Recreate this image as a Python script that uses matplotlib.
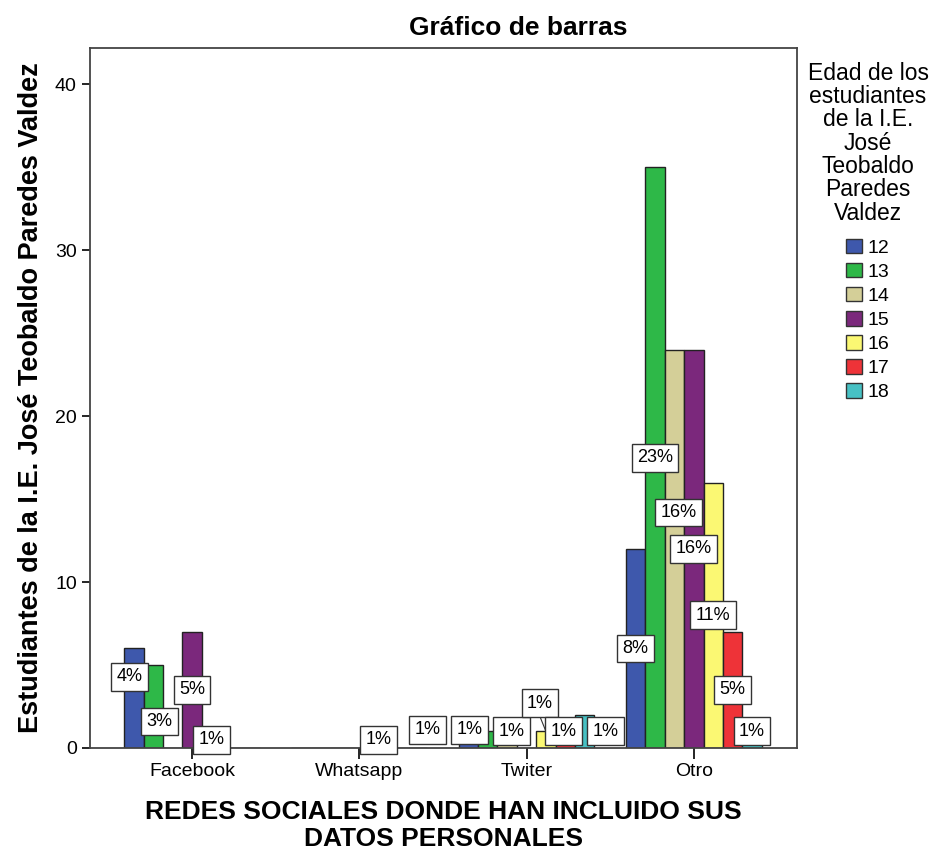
import numpy as np
import matplotlib
matplotlib.use('Agg')
import matplotlib.pyplot as plt
from matplotlib.patches import Patch

plt.rcParams['font.family'] = ['Liberation Sans', 'DejaVu Sans']

# data
redes = ['Facebook', 'Whatsapp', 'Twiter', 'Otro']
edades = ['12', '13', '14', '15', '16', '17', '18']
cuenta_12 = [6, 0, 1, 12]
cuenta_13 = [5, 0, 1, 35]
cuenta_14 = [0, 0, 1, 24]
cuenta_15 = [7, 0, 0, 24]
cuenta_16 = [1, 1, 1, 16]
cuenta_17 = [0, 0, 1, 7]
cuenta_18 = [0, 0, 2, 1]
# percentage labels as printed (None = no label)
pct_12 = ['4%', None, '1%', '8%']
pct_13 = ['3%', None, '1%', '23%']
pct_14 = [None, None, '1%', '16%']
pct_15 = ['5%', None, None, '16%']
pct_16 = ['1%', '1%', '1%', '11%']
pct_17 = [None, None, '1%', '5%']
pct_18 = [None, None, '1%', '1%']

cuentas = [cuenta_12, cuenta_13, cuenta_14, cuenta_15, cuenta_16, cuenta_17, cuenta_18]
pcts = [pct_12, pct_13, pct_14, pct_15, pct_16, pct_17, pct_18]
colores = ['#3e58ac', '#2eb848', '#d4cf98', '#7b287c', '#fbf873', '#ee3338', '#47c1c4']

# label placement tweaks (dx, y) in data units, to mimic SPSS collision handling
ajustes = {
    (0, 0): (-0.024, 4.3), (0, 1): (0.036, 1.6), (0, 4): (0.0, 0.5),
    (1, 4): (0.0, 0.5),
    (2, 0): (-0.245, 1.1), (2, 1): (-0.108, 1.1), (2, 2): (0.024, 1.0),
    (2, 4): (-0.036, 2.7), (2, 5): (-0.01, 1.0), (2, 6): (0.125, 1.0),
    (3, 2): (0.024, 14.2), (3, 6): (0.0, 1.0),
}

fig = plt.figure(figsize=(9.33, 8.52), dpi=100)
ax = fig.add_axes([90/933, 1-748/852, 707/933, 700/852])

x = np.arange(len(redes))
w = 0.116
for k, (vals, col) in enumerate(zip(cuentas, colores)):
    ax.bar(x + (k-3)*w, vals, width=w, color=col, edgecolor='#222222', linewidth=1.0, zorder=2)

bbox = dict(boxstyle='square,pad=0.3', fc='white', ec='#333333', lw=1.0)
for k in range(len(edades)):
    for i in range(len(redes)):
        txt = pcts[k][i]
        if txt is None:
            continue
        bx = x[i] + (k-3)*w
        dx, ly = ajustes.get((i, k), (0.0, cuentas[k][i]/2))
        if (i, k) == (2, 4):
            ax.plot([bx, bx+dx], [cuentas[k][i], ly-0.8], color='#333333', lw=0.8, zorder=3)
        ax.text(bx+dx, ly, txt, ha='center', va='center', fontsize=13,
                bbox=bbox, zorder=4, clip_on=False)

ax.set_xlim(-0.61, 3.617)
ax.set_ylim(0, 42.2)
ax.set_yticks([0, 10, 20, 30, 40])
ax.set_xticks(x)
ax.set_xticklabels(redes, fontsize=14)
ax.tick_params(axis='y', labelsize=14, length=6, width=1.2, direction='out')
ax.tick_params(axis='x', length=8, width=1.2, direction='out', pad=3)
for s in ax.spines.values():
    s.set_linewidth(1.3)
    s.set_color('#444444')

fig.text(518/933, 1-28/852, 'Gráfico de barras', fontsize=19, fontweight='bold',
         ha='center', va='center')
ax.set_ylabel('Estudiantes de la I.E. José Teobaldo Paredes Valdez', fontsize=19.5,
              fontweight='bold', labelpad=8)
ax.set_xlabel('REDES SOCIALES DONDE HAN INCLUIDO SUS\nDATOS PERSONALES', fontsize=19,
              fontweight='bold', labelpad=14, linespacing=1.15)

handles = [Patch(facecolor=c, edgecolor='#333333', label=e) for c, e in zip(colores, edades)]
leg = fig.legend(handles=handles,
                 title='Edad de los\nestudiantes\nde la I.E.\nJosé\nTeobaldo\nParedes\nValdez',
                 loc='upper center', bbox_to_anchor=(868/933, 1-44/852), frameon=False,
                 fontsize=14, title_fontsize=16.5, handlelength=0.8, handleheight=0.8,
                 handletextpad=0.3, labelspacing=0.3)
leg.get_title().set_multialignment('center')
leg.get_title().set_linespacing(1.02)
leg._legend_box.sep = 10

fig.savefig('out.png', dpi=100)
